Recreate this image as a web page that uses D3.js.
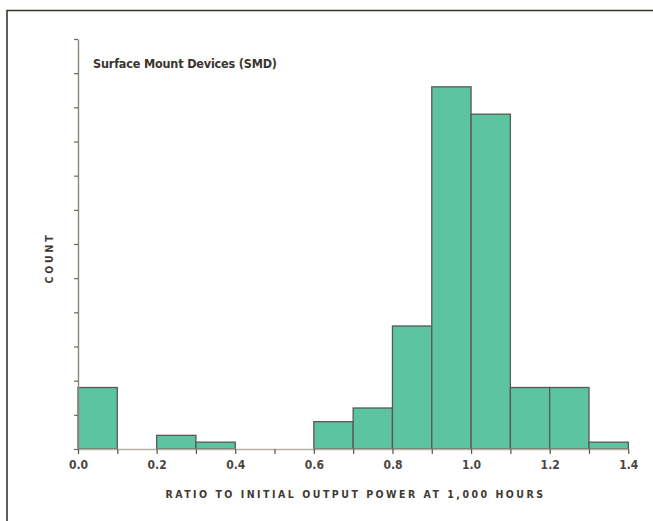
<!DOCTYPE html>
<html>
<head>
<meta charset="utf-8">
<script src="https://cdn.jsdelivr.net/npm/d3@7/dist/d3.min.js"></script>
<style>
  html, body { margin: 0; padding: 0; background: #ffffff; }
  svg { display: block; }
</style>
</head>
<body>
<script>
// Histogram bins (lower edge, upper edge) and device counts
const binStarts = [0.0, 0.2, 0.3, 0.6, 0.7, 0.8, 0.9, 1.0, 1.1, 1.2, 1.3];
const binEnds   = [0.1, 0.3, 0.4, 0.7, 0.8, 0.9, 1.0, 1.1, 1.2, 1.3, 1.4];
const counts    = [9, 2, 1, 4, 6, 18, 53, 49, 9, 9, 1];

const xTickValues = [0, 0.1, 0.2, 0.3, 0.4, 0.5, 0.6, 0.7, 0.8, 0.9, 1.0, 1.1, 1.2, 1.3, 1.4];
const xTickLabels = ["0.0", "", "0.2", "", "0.4", "", "0.6", "", "0.8", "", "1.0", "", "1.2", "", "1.4"];
const yTickValues = [0, 5, 10, 15, 20, 25, 30, 35, 40, 45, 50, 55, 60];

const title = "Surface Mount Devices (SMD)";
const xTitle = "RATIO TO INITIAL OUTPUT POWER AT 1,000 HOURS";
const yTitle = "COUNT";

const W = 653, H = 521;
const plot = { left: 78, right: 628.3, top: 39, bottom: 449 };

const svg = d3.select("body").append("svg")
  .attr("width", W).attr("height", H);

const x = d3.scaleLinear().domain([0, 1.4]).range([plot.left, plot.right]);
const y = d3.scaleLinear().domain([0, 60]).range([plot.bottom, plot.top]);

const font = "'DejaVu Sans Condensed', 'Liberation Sans Narrow', 'DejaVu Sans', sans-serif";

// Outer frame: top and left rules
svg.append("path")
  .attr("d", `M7,${H} L7,10.5 L${W},10.5`)
  .attr("fill", "none")
  .attr("stroke", "#3b342a")
  .attr("stroke-width", 1.6);

// Bars
const bins = binStarts.map((s, i) => ({ x0: s, x1: binEnds[i], n: counts[i] }));
svg.append("g").selectAll("rect")
  .data(bins)
  .join("rect")
  .attr("x", d => x(d.x0))
  .attr("y", d => y(d.n))
  .attr("width", d => x(d.x1) - x(d.x0))
  .attr("height", d => y(0) - y(d.n))
  .attr("fill", "#5cc4a1")
  .attr("stroke", "#5a5a52")
  .attr("stroke-width", 1.3);

// X axis
const xAxis = d3.axisBottom(x)
  .tickValues(xTickValues)
  .tickFormat((d, i) => xTickLabels[i])
  .tickSize(5)
  .tickSizeOuter(0)
  .tickPadding(6);

const gx = svg.append("g")
  .attr("transform", `translate(0,${plot.bottom})`)
  .call(xAxis);
gx.select(".domain").attr("stroke", "#b9b1a2").attr("stroke-width", 1.6);
gx.selectAll(".tick line").attr("stroke", "#5a554c").attr("stroke-width", 1.2);
gx.selectAll(".tick text")
  .attr("fill", "#4a463f")
  .attr("font-family", font)
  .attr("font-weight", "bold")
  .attr("font-size", 12);

// Y axis (unlabelled ticks)
const yAxis = d3.axisLeft(y)
  .tickValues(yTickValues)
  .tickFormat("")
  .tickSize(4)
  .tickSizeOuter(0);

const gy = svg.append("g")
  .attr("transform", `translate(${plot.left},0)`)
  .call(yAxis);
gy.select(".domain").attr("stroke", "#8b857a").attr("stroke-width", 1.4);
gy.selectAll(".tick line").attr("stroke", "#6e685e").attr("stroke-width", 1.2);

// Chart label inside the plot
svg.append("text")
  .attr("x", 93)
  .attr("y", 68)
  .attr("fill", "#3a352e")
  .attr("font-family", font)
  .attr("font-weight", "bold")
  .attr("font-size", 12.5)
  .attr("textLength", 184)
  .text(title);

// X axis title
svg.append("text")
  .attr("x", (163 + 548) / 2)
  .attr("y", 498)
  .attr("text-anchor", "middle")
  .attr("fill", "#3f3a33")
  .attr("font-family", font)
  .attr("font-weight", "bold")
  .attr("font-size", 10.5)
  .attr("letter-spacing", "2.5px")
  .text(xTitle);

// Y axis title
svg.append("text")
  .attr("transform", `translate(53,258) rotate(-90)`)
  .attr("text-anchor", "middle")
  .attr("fill", "#3f3a33")
  .attr("font-family", font)
  .attr("font-weight", "bold")
  .attr("font-size", 10.5)
  .attr("letter-spacing", "2.8px")
  .text(yTitle);
</script>
</body>
</html>
